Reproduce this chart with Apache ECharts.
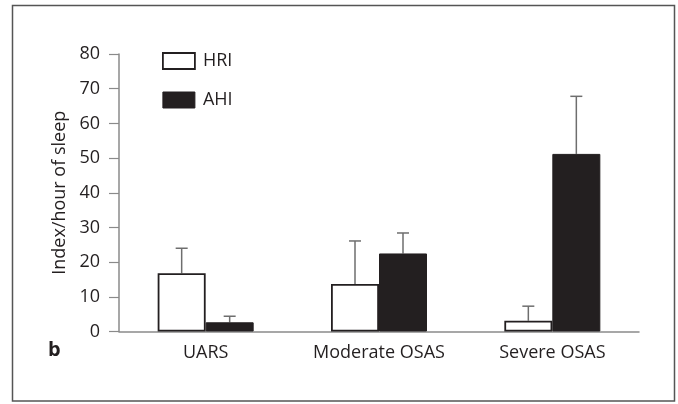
<!DOCTYPE html>
<html>
<head>
<meta charset="utf-8">
<script src="https://cdn.jsdelivr.net/npm/echarts@6/dist/echarts.min.js"></script>
<style>
  html, body { margin: 0; padding: 0; background: #fff; }
  #chart { width: 678px; height: 404px; }
</style>
</head>
<body>
<div id="chart"></div>
<script>
// groups on the x axis
const categories = ['UARS', 'Moderate OSAS', 'Severe OSAS'];
// mean index per hour of sleep
const hriValues = [16.8, 13.7, 3.1];
const ahiValues = [2.65, 22.5, 51.2];
// upward error (SD)
const hriErrors = [7.2, 12.4, 4.2];
const ahiErrors = [1.75, 5.9, 16.6];
const yTicks = { min: 0, max: 80, interval: 10 };

const textColor = '#231f20';
const axisColor = '#8a8a8a';
const font = '"Open Sans", sans-serif';

// error bar drawn above a bar; shift moves it to the left/right bar of the pair
function errorBar(shift) {
  return function (params, api) {
    const cat = api.value(0);
    const top = api.coord([cat, api.value(1) + api.value(2)]);
    const base = api.coord([cat, api.value(1)]);
    const x = top[0] + shift;
    const style = { stroke: '#6e6e6e', lineWidth: 1.5 };
    return {
      type: 'group',
      children: [
        { type: 'line', shape: { x1: x, y1: base[1], x2: x, y2: top[1] }, style: style },
        { type: 'line', shape: { x1: x - 6, y1: top[1], x2: x + 6, y2: top[1] }, style: style }
      ]
    };
  };
}

const chart = echarts.init(document.getElementById('chart'));
chart.setOption({
  animation: false,
  textStyle: { fontFamily: font, color: textColor },
  grid: { left: 119, right: 39, top: 54, bottom: 72.5 },
  legend: {
    orient: 'vertical',
    left: 157,
    top: 47,
    icon: 'rect',
    itemWidth: 32,
    itemHeight: 16,
    itemGap: 21,
    textStyle: { fontSize: 18, color: textColor, fontFamily: font, padding: [0, 0, 0, 3] },
    data: [
      { name: 'HRI', itemStyle: { color: '#fff', borderColor: textColor, borderWidth: 1.8 } },
      { name: 'AHI', itemStyle: { color: textColor, borderColor: textColor, borderWidth: 1 } }
    ]
  },
  xAxis: {
    type: 'category',
    data: categories,
    axisLine: { lineStyle: { color: axisColor, width: 1.5 } },
    axisTick: { length: 10, lineStyle: { color: '#555', width: 1.2 } },
    axisLabel: { fontSize: 18, color: textColor, margin: 12 }
  },
  yAxis: {
    type: 'value',
    min: yTicks.min,
    max: yTicks.max,
    interval: yTicks.interval,
    name: 'Index/hour of sleep',
    nameLocation: 'middle',
    nameGap: 50,
    nameTextStyle: { fontSize: 18, color: textColor },
    axisLine: { show: true, lineStyle: { color: axisColor, width: 1.5 } },
    axisTick: { show: true, length: 10, lineStyle: { color: axisColor, width: 1.2 } },
    axisLabel: { fontSize: 18, color: textColor, margin: 19 },
    splitLine: { show: false }
  },
  graphic: [
    {
      type: 'rect',
      shape: { x: 12.5, y: 5.5, width: 662, height: 395.5 },
      style: { fill: 'none', stroke: '#555', lineWidth: 1.5 },
      silent: true
    },
    {
      type: 'text',
      left: 48,
      top: 340,
      style: { text: 'b', font: 'bold 20px ' + font, fill: textColor }
    }
  ],
  series: [
    {
      name: 'HRI',
      type: 'bar',
      barWidth: 48,
      barGap: '0%',
      data: hriValues,
      itemStyle: { color: '#fff', borderColor: textColor, borderWidth: 1.8 }
    },
    {
      name: 'AHI',
      type: 'bar',
      barWidth: 48,
      barGap: '0%',
      data: ahiValues,
      itemStyle: { color: textColor, borderColor: textColor, borderWidth: 1 }
    },
    {
      type: 'custom',
      renderItem: errorBar(-24),
      data: categories.map((c, i) => [i, hriValues[i], hriErrors[i]]),
      z: 1
    },
    {
      type: 'custom',
      renderItem: errorBar(24),
      data: categories.map((c, i) => [i, ahiValues[i], ahiErrors[i]]),
      z: 1
    }
  ]
});
</script>
</body>
</html>
